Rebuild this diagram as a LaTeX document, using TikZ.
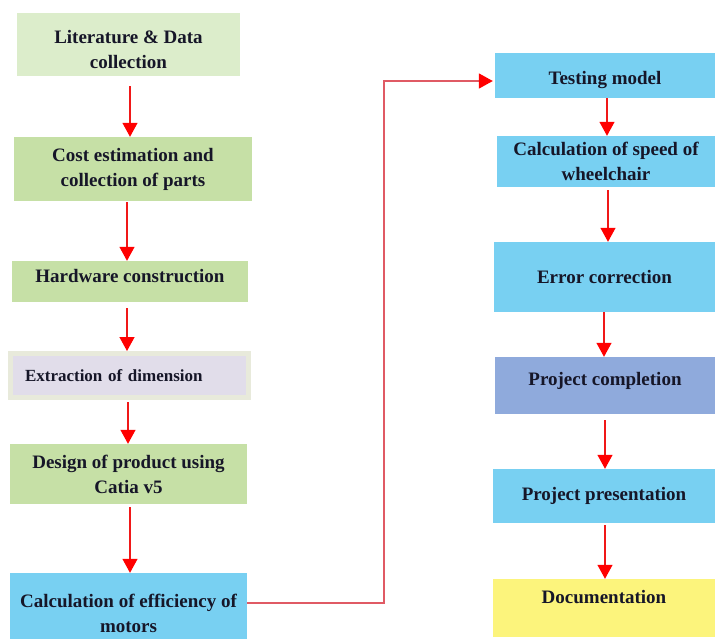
\documentclass[tikz,border=0pt]{standalone}
\usepackage{fontspec}
\setmainfont{Liberation Serif}
\usetikzlibrary{arrows.meta,calc}
\definecolor{litgreen}{HTML}{DCEDCB}
\definecolor{midgreen}{HTML}{C6E0A6}
\definecolor{skyblue}{HTML}{78D0F2}
\definecolor{steelb}{HTML}{8FAADC}
\definecolor{docyellow}{HTML}{FCF47C}
\definecolor{lavender}{HTML}{E1DDEA}
\definecolor{framebeige}{HTML}{E8EADB}
\definecolor{textc}{HTML}{161628}
\definecolor{arrowred}{HTML}{F01818}
\definecolor{connred}{HTML}{E05A64}
\tikzset{
  box/.style={rectangle, inner sep=2pt, align=center, text=textc,
    font=\bfseries\fontsize{19}{25}\selectfont},
  flowarrow/.style={draw=arrowred, line width=1.3pt,
    -{Triangle[width=15pt,length=14pt,fill=red,color=red]}},
  longconn/.style={draw=connred, line width=1.6pt,
    -{Triangle[width=15pt,length=14pt,fill=red,color=red]}}
}
\begin{document}
\begin{tikzpicture}[x=1pt,y=-1pt]
\useasboundingbox (0,0) rectangle (715,638);
\clip (0,0) rectangle (715,638);

% left column
\node[box, fill=litgreen, minimum width=223pt, minimum height=63pt] (lit) at (128.5,44.5) {\rule{0pt}{24pt}Literature \& Data\\collection};
\node[box, fill=midgreen, minimum width=238pt, minimum height=64pt] (cost) at (133,169) {Cost estimation and\\collection of parts};
\node[box, fill=midgreen, minimum width=236pt, minimum height=41pt] (hard) at (130,281.5) {\rule[-12pt]{0pt}{12pt}Hardware construction};
\node[box, fill=lavender, draw=framebeige, line width=5pt, minimum width=238pt, minimum height=44pt,
      text width=209pt, inner xsep=14.5pt, align=left,
      font=\bfseries\fontsize{17}{22}\selectfont] (extr) at (129.5,375.5) {Extraction of dimension};
\node[box, fill=midgreen, minimum width=237pt, minimum height=60pt] (design) at (128.5,474) {Design of product using\\Catia v5};
\node[box, fill=skyblue, minimum width=237pt, minimum height=80pt] (eff) at (128.5,613) {Calculation of efficiency of\\motors};

% right column
\node[box, fill=skyblue, minimum width=220pt, minimum height=45pt] (test) at (605,75.5) {\rule{0pt}{23pt}Testing model};
\node[box, fill=skyblue, minimum width=218pt, minimum height=51pt] (speed) at (606,161.5) {Calculation of speed of\\wheelchair};
\node[box, fill=skyblue, minimum width=221pt, minimum height=70pt] (err) at (604.5,277) {Error correction};
\node[box, fill=steelb, minimum width=220pt, minimum height=57pt] (comp) at (605,385.5) {\rule[-14pt]{0pt}{14pt}Project completion};
\node[box, fill=skyblue, minimum width=222pt, minimum height=54pt] (pres) at (604,496) {Project presentation};
\node[box, fill=docyellow, minimum width=222pt, minimum height=58pt, text depth=22pt] (doc) at (604,608) {Documentation};

% left arrows
\draw[flowarrow] ([xshift=1.5pt,yshift=-10pt]lit.south) -- ([xshift=1.5pt]lit.south |- cost.north);
\draw[flowarrow] ([xshift=-6pt,yshift=-1pt]cost.south) -- ([xshift=-6pt]cost.south |- hard.north);
\draw[flowarrow] ([xshift=-3pt,yshift=-6pt]hard.south) -- ([xshift=-3pt]hard.south |- extr.north);
\draw[flowarrow] ([xshift=-1.5pt,yshift=-2pt]extr.south) -- ([xshift=-1.5pt]extr.south |- design.north);
\draw[flowarrow] ([xshift=1.5pt,yshift=-3pt]design.south) -- ([xshift=1.5pt]design.south |- eff.north);

% right arrows
\draw[flowarrow] ([xshift=2pt]test.south) -- ([xshift=2pt]test.south |- speed.north);
\draw[flowarrow] ([xshift=2pt,yshift=-3pt]speed.south) -- ([xshift=2pt]speed.south |- err.north);
\draw[flowarrow] ([xshift=-0.5pt]err.south) -- ([xshift=-0.5pt]err.south |- comp.north);
\draw[flowarrow] ([xshift=0pt,yshift=-6pt]comp.south) -- ([xshift=0pt]comp.south |- pres.north);
\draw[flowarrow] ([xshift=1pt,yshift=-2pt]pres.south) -- ([xshift=1pt]pres.south |- doc.north);

% long connector
\coordinate (turn) at (384,81);
\draw[longconn] ([yshift=10pt]eff.east) -| (turn) -- ([xshift=-2pt]test.west |- turn);
\end{tikzpicture}
\end{document}
